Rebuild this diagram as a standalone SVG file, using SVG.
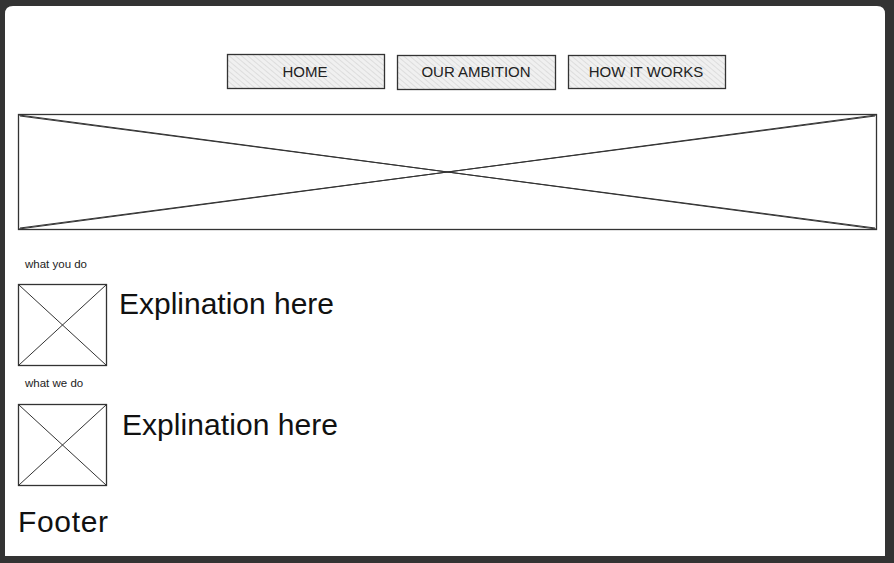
<svg xmlns="http://www.w3.org/2000/svg" width="894" height="563" viewBox="0 0 894 563">
<style>
.btn{fill:url(#hatch);stroke:#333;stroke-width:1.3}
.btxt{font-family:"Liberation Sans",Arial,sans-serif;font-size:15px;fill:#222;text-anchor:middle}
.ph{fill:#fff;stroke:#333;stroke-width:1.3}
.x{stroke:#333;stroke-width:1;fill:none}
.small{font-family:"Liberation Sans",Arial,sans-serif;font-size:11.5px;fill:#222}
.big{font-family:"Liberation Sans",Arial,sans-serif;font-size:30px;fill:#111}
</style>
<defs>
<pattern id="hatch" patternUnits="userSpaceOnUse" width="4" height="4" patternTransform="rotate(-50)">
<rect width="4" height="4" fill="#f0f0f0"/>
<line x1="0" y1="0" x2="0" y2="4" stroke="#cacaca" stroke-width="1"/>
</pattern>
</defs>
<rect width="894" height="563" fill="#333"/>
<path d="M13 6 H877 Q885 6 885 14 V556 H5 V14 Q5 6 13 6 Z" fill="#fff"/>
<g id="nav-home">
<rect class="btn" x="227.5" y="54.5" width="157" height="34"/>
<text class="btxt" x="305" y="77">HOME</text>
</g>
<g id="nav-ambition">
<rect class="btn" x="397.5" y="55.5" width="158" height="34"/>
<text class="btxt" x="476" y="77">OUR AMBITION</text>
</g>
<g id="nav-how">
<rect class="btn" x="568.5" y="55.5" width="157" height="33"/>
<text class="btxt" x="646" y="77">HOW IT WORKS</text>
</g>
<g id="hero">
<rect class="ph" x="18.5" y="114.5" width="858" height="115"/>
<path class="x" d="M19 115 L876 229 M20 116 L875 228 M19 229 L876 115 M20 228 L875 116"/>
</g>
<g id="what-you-do">
<text class="small" x="25" y="268">what you do</text>
<rect class="ph" x="18.5" y="284.5" width="88" height="81"/>
<path class="x" d="M19 285 L106 365 M19 365 L106 285"/>
<text class="big" x="119" y="314" textLength="215">Explination here</text>
</g>
<g id="what-we-do">
<text class="small" x="25" y="387">what we do</text>
<rect class="ph" x="18.5" y="404.5" width="88" height="81"/>
<path class="x" d="M19 405 L106 485 M19 485 L106 405"/>
<text class="big" x="122" y="435" textLength="216">Explination here</text>
</g>
<g id="footer">
<text class="big" x="18" y="532" textLength="90">Footer</text>
</g>
<g id="connectors"/>
</svg>
